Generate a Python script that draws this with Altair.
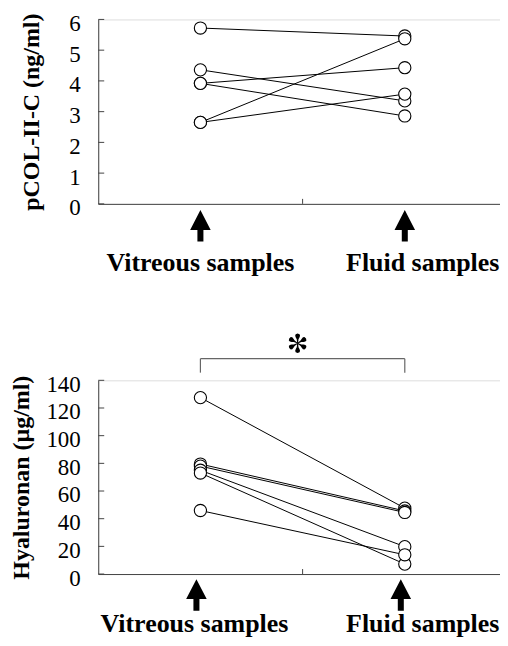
import altair as alt
import math
import pandas as pd

# ---------------- data ----------------
samples = ["Vitreous samples", "Fluid samples"]

pcol_vitreous = [5.72, 4.36, 3.92, 3.92, 2.65, 2.65]
pcol_fluid = [5.46, 3.35, 4.43, 2.86, 5.37, 3.57]

ha_vitreous = [127.5, 79.5, 78.0, 75.0, 73.0, 45.9]
ha_fluid = [47.6, 45.6, 44.5, 19.8, 7.2, 13.9]

pcol_ticks = [0, 1, 2, 3, 4, 5, 6]
ha_ticks = [0, 20, 40, 60, 80, 100, 120, 140]

pcol_title = "pCOL-II-C (ng/ml)"
ha_title = "Hyaluronan (\u00b5g/ml)"

# ---------------- style ----------------
SERIF = "Liberation Serif"
AX = "#444444"
W = 410
ARROW = "M0,-1L0.65,0.26L0.19,0.26L0.19,1L-0.19,1L-0.19,0.26L-0.65,0.26Z"


def star_path():
    half = [(0, 0.04), (0.4, 0.09), (0.6, 0.19), (0.78, 0.25), (0.93, 0.2), (1.0, 0.0)]
    spoke = [(a, -b) for a, b in half] + [(a, b) for a, b in reversed(half[:-1])]
    parts = []
    for deg in [90, 30, 150, 270, 210, 330]:
        t = math.radians(deg)
        c, s = math.cos(t), math.sin(t)
        pts = [(a * c - b * s, -(a * s + b * c)) for a, b in spoke]
        parts.append("M" + "L".join(f"{x:.3f},{y:.3f}" for x, y in pts) + "Z")
    return "".join(parts)


STAR = star_path()


def long_df(v, f):
    rows = []
    for i, (a, b) in enumerate(zip(v, f)):
        rows.append({"subject": i, "sample": samples[0], "value": a})
        rows.append({"subject": i, "sample": samples[1], "value": b})
    return pd.DataFrame(rows)


def panel(v, f, ticks, title, H, title_pad, arrow_dx, label_dx, arrow_y, label_y,
          bracket=False):
    df = long_df(v, f)
    sdf = pd.DataFrame({"sample": samples})
    tdf = pd.DataFrame({"value": ticks})
    xs = alt.Scale(type="point", domain=samples, padding=0.5)
    ys = alt.Scale(domain=[ticks[0], ticks[-1]], nice=False, zero=True)
    yaxis = alt.Axis(values=ticks, ticks=False, tickSize=0, grid=False,
                     labelOverlap=False, labelFlush=False,
                     labelFont=SERIF, labelFontSize=23, labelColor="black",
                     labelPadding=18, labelOffset=4,
                     title=title, titleFont=SERIF, titleFontSize=24,
                     titleFontWeight="bold", titleColor="black",
                     titlePadding=title_pad,
                     domainColor=AX, domainWidth=1)
    xaxis = alt.Axis(labels=False, ticks=False, title=None, grid=False,
                     domainColor=AX, domainWidth=1)

    def X(field="sample:N"):
        return alt.X(field, scale=xs, axis=xaxis)

    def Y(field="value:Q"):
        return alt.Y(field, scale=ys, axis=yaxis)

    lines = alt.Chart(df).mark_line(color="black", strokeWidth=1).encode(
        x=X(), y=Y(), detail="subject:N",
    )
    pts = alt.Chart(df).mark_point(filled=True, fill="white", stroke="black",
                                   strokeWidth=1.1, size=150, opacity=1).encode(
        x=X(), y=Y(),
    )
    yt = alt.Chart(tdf).mark_rule(color=AX, strokeWidth=1).encode(
        y=Y(), x=alt.value(0), x2=alt.value(6),
    )
    xt = alt.Chart(pd.DataFrame({"value": [0]})).mark_rule(color=AX, strokeWidth=1).encode(
        x=alt.value(W / 2), y=alt.value(H), y2=alt.value(H - 5),
    )
    xt2 = alt.Chart(pd.DataFrame({"value": [0]})).mark_rule(color=AX, strokeWidth=1).encode(
        x=alt.value(W - 0.5), y=alt.value(H), y2=alt.value(H - 5),
    )
    arrows = alt.Chart(sdf).mark_point(shape=ARROW, size=1005, filled=True,
                                       color="black", opacity=1,
                                       strokeWidth=0).encode(
        x=X(), y=alt.value(H + arrow_y), xOffset=alt.value(arrow_dx),
    )
    texts = []
    for i, s in enumerate(samples):
        texts.append(
            alt.Chart(sdf).transform_filter(alt.datum.sample == s).mark_text(
                font=SERIF, fontSize=26, fontWeight="bold", color="black",
                baseline="alphabetic", align="center", dx=label_dx[i]).encode(
                x=X(), y=alt.value(H + label_y), text="sample:N",
            )
        )
    layers = [yt, xt, xt2, lines, pts, arrows] + texts
    if bracket:
        bdf = pd.DataFrame({"a": [samples[0]], "b": [samples[1]]})
        hb = alt.Chart(bdf).mark_rule(color="#666666", strokeWidth=1.2).encode(
            x=X("a:N"), x2="b:N", y=alt.value(-21.7))
        vb = alt.Chart(sdf).mark_rule(color="#666666", strokeWidth=1.2).encode(
            x=X(), y=alt.value(-21.7), y2=alt.value(-7.7))
        star = alt.Chart(pd.DataFrame({"t": ["*"]})).mark_point(
            shape=STAR, size=380, filled=True, color="black", opacity=1,
            strokeWidth=0).encode(
            x=alt.value(W / 2 - 5), y=alt.value(-37.2))
        layers += [hb, vb, star]
    return alt.layer(*layers).properties(width=W, height=H)


top = panel(pcol_vitreous, pcol_fluid, pcol_ticks, pcol_title, 185, 25,
            0, [0, 18], 22, 67)
bottom = panel(ha_vitreous, ha_fluid, ha_ticks, ha_title, 194.3, 12,
               -4, [-6, 18], 21, 58, bracket=True)

chart = alt.vconcat(top, bottom, spacing=177, bounds="flush").properties(
    padding={"left": 1.5, "top": 2.5, "right": -8, "bottom": 0}
).configure_view(stroke=None).configure_axis(labelOverlap=False).configure(
    background="white")

chart.save("out.html", embed_options={"renderer": "svg", "actions": False})
